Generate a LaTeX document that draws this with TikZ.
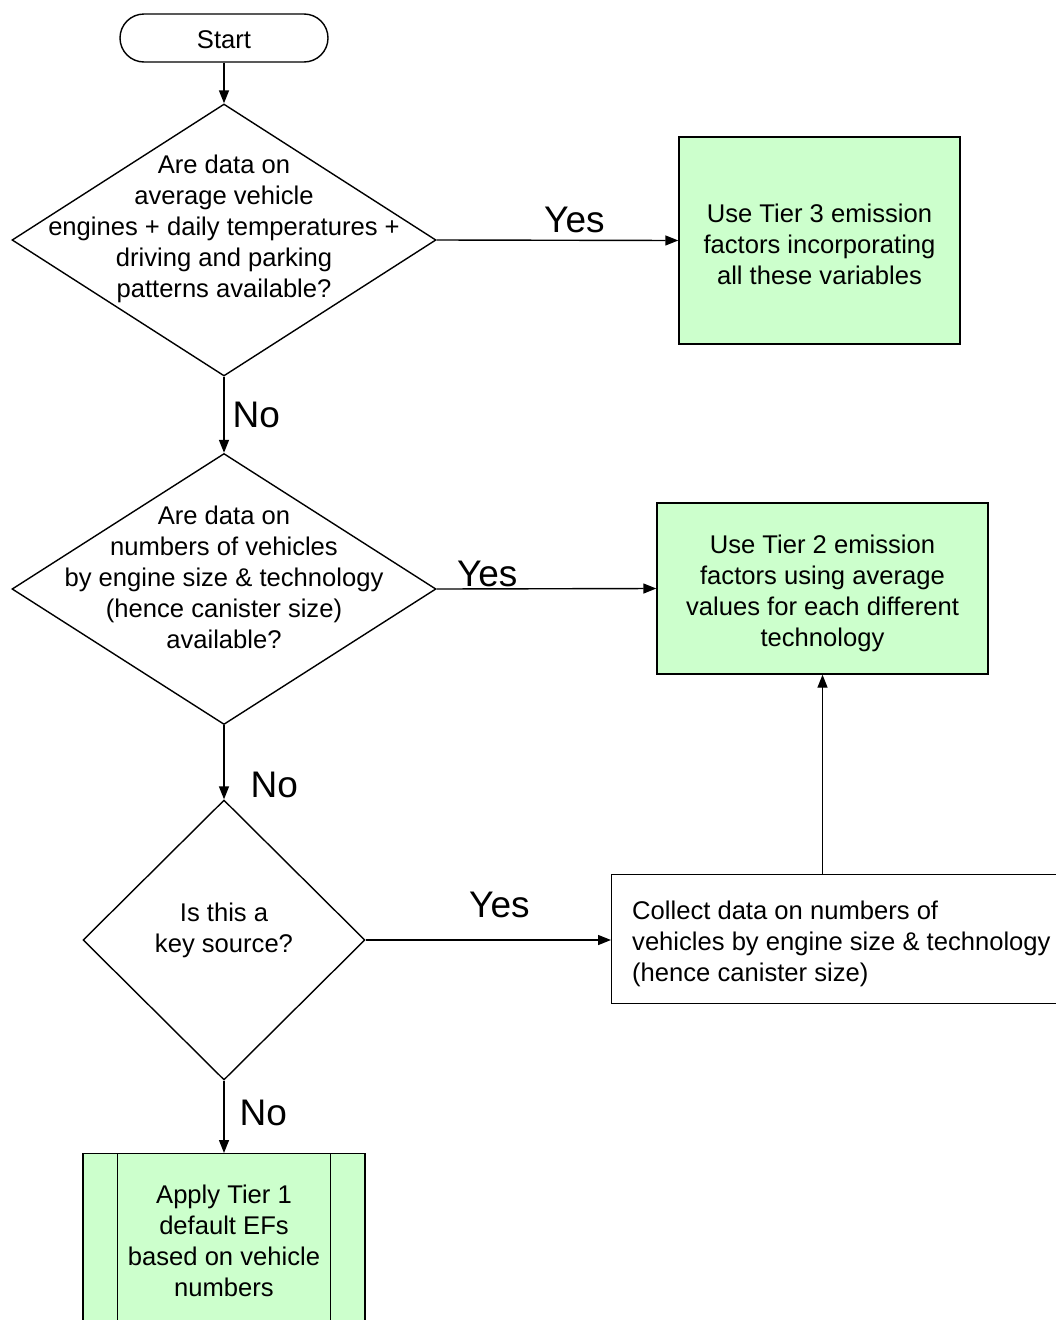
\documentclass[tikz,border=0pt]{standalone}
\usepackage{fontspec}
\setmainfont{Liberation Sans}
\usetikzlibrary{shapes.geometric,arrows.meta}
\definecolor{tiergreen}{RGB}{204,255,204}
\tikzset{
    every node/.style={font=\fontsize{25.6}{31}\selectfont},
    terminal/.style={draw, rounded corners=24pt, minimum width=208pt, minimum height=48pt, line width=1.4pt},
    decision/.style={draw, diamond, inner sep=0pt, line width=1.4pt},
    tierbox/.style={draw, fill=tiergreen, align=center, line width=1.4pt},
    plainbox/.style={draw, align=left, line width=1.4pt},
    answer/.style={font=\fontsize{37}{40}\selectfont, inner sep=0pt},
    flow/.style={-{Triangle[length=13pt,width=10pt]}, line width=1.4pt}
}
\begin{document}
\begin{tikzpicture}[x=1pt, y=-1pt]
                \useasboundingbox (0,0) rectangle (1056,1320);
                \clip (0,0) rectangle (1056,1320);
                \node[terminal](START) at (224,38) {};
                \node(STARTT) at (224,40) {Start};
                \node[decision, minimum width=424pt, minimum height=272pt](Q1) at (224,240) {};
                \node[align=center](Q1T) at (224,229) {Are data on\\average vehicle\\engines + daily temperatures +\\driving and parking\\patterns available?};
                \node[decision, minimum width=424pt, minimum height=271pt](Q2) at (224,589) {};
                \node[align=center](Q2T) at (224,577) {Are data on\\numbers of vehicles\\by engine size \& technology\\(hence canister size)\\available?};
                \node[decision, minimum width=282pt, minimum height=280pt](Q3) at (224,940) {};
                \node[align=center](Q3T) at (224,930) {Is this a\\key source?};
                \node[tierbox, minimum width=281pt, minimum height=207pt](TIER3) at (819.5,240.5) {};
                \node[align=center](TIER3T) at ([yshift=-4pt]TIER3.center) {Use Tier 3 emission\\factors incorporating\\all these variables};
                \node[tierbox, minimum width=331pt, minimum height=171pt](TIER2) at (822.5,588.5) {};
                \node[align=center](TIER2T) at ([yshift=-5pt]TIER2.center) {Use Tier 2 emission\\factors using average\\values for each different\\technology};
                \node[plainbox, anchor=north west, minimum height=129pt, text width=440pt, inner xsep=21pt](COLL) at (611,874) {};
                \node[align=left, anchor=west, inner sep=0pt](COLLT) at (632,944) {Collect data on numbers of\\vehicles by engine size \& technology\\(hence canister size)};
                \node[tierbox, anchor=north, minimum width=282pt, minimum height=175pt](TIER1) at (224,1153) {Apply Tier 1\\default EFs\\based on vehicle\\numbers};
                \draw[line width=1.4pt] ([xshift=35pt]TIER1.north west) -- ([xshift=35pt]TIER1.south west);
                \draw[line width=1.4pt] ([xshift=-35pt]TIER1.north east) -- ([xshift=-35pt]TIER1.south east);
                \draw[flow] (START) -- (Q1.north);
                \draw[flow] (Q1.east) -- (TIER3.west) node[answer, pos=0.57, above=7pt]{Yes};
                \draw[flow] (Q1.south) -- (Q2.north) node[answer, midway, right=8pt]{No};
                \draw[flow] (Q2.east) -- (TIER2.west) node[answer, pos=0.23, above=1pt]{Yes};
                \draw[flow] (Q2.south) -- (Q3.north) node[answer, pos=0.8, right=26pt]{No};
                \draw[flow] (Q3.east) -- (Q3.east -| COLL.west) node[answer, pos=0.545, above=21pt]{Yes};
                \draw[flow] (TIER2.south |- COLL.north) -- (TIER2.south);
                \draw[flow] (Q3.south) -- (TIER1.north) node[answer, pos=0.45, right=15pt]{No};
            \end{tikzpicture}
\end{document}
